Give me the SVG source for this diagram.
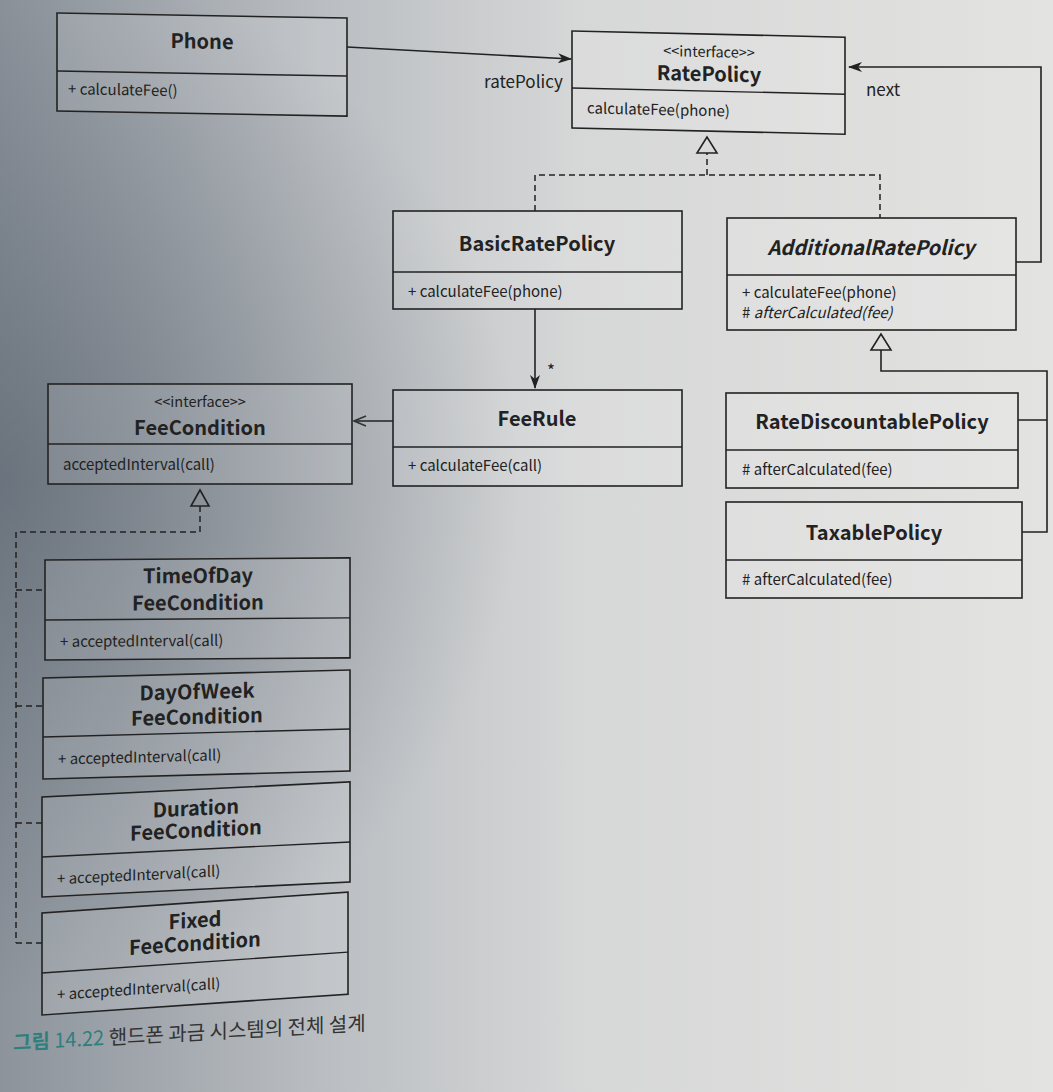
<svg xmlns="http://www.w3.org/2000/svg" width="1053" height="1092" viewBox="0 0 1053 1092">
<defs>
<linearGradient id="bg" x1="0" y1="0" x2="1" y2="0">
<stop offset="0" stop-color="#8c939b"/>
<stop offset="0.3" stop-color="#b9bdc1"/>
<stop offset="0.55" stop-color="#d6d7d7"/>
<stop offset="1" stop-color="#e3e3e1"/>
</linearGradient>
<radialGradient id="shade" cx="0" cy="480" r="520" gradientUnits="userSpaceOnUse">
<stop offset="0" stop-color="#4f5965" stop-opacity="0.55"/>
<stop offset="1" stop-color="#4f5965" stop-opacity="0"/>
</radialGradient>
<marker id="stealth" viewBox="0 0 14 10" refX="13" refY="5" markerWidth="14" markerHeight="10" markerUnits="userSpaceOnUse" orient="auto">
<path d="M0,0 L14,5 L0,10 L4,5 Z" fill="#222"/>
</marker>
<marker id="openv" viewBox="0 0 14 12" refX="13" refY="6" markerWidth="14" markerHeight="12" markerUnits="userSpaceOnUse" orient="auto">
<path d="M1,1 L13,6 L1,11" fill="none" stroke="#333" stroke-width="1.6"/>
</marker>
</defs>
<style>
.box{fill:#ffffff;fill-opacity:0.12;stroke:#222;stroke-width:1.6}
.div{stroke:#222;stroke-width:1.4}
.t{font-family:"Noto Sans CJK KR","Noto Sans",sans-serif;font-weight:700;font-size:20px;fill:#222;text-anchor:middle}
.s{font-family:"Noto Sans CJK KR","Noto Sans",sans-serif;font-size:14.5px;fill:#222;text-anchor:middle}
.m{font-family:"Noto Sans CJK KR","Noto Sans",sans-serif;font-size:15px;fill:#222}
.lbl{font-family:"Noto Sans CJK KR","Noto Sans",sans-serif;font-size:17px;fill:#222}
.ln{fill:none;stroke:#222;stroke-width:1.6}
.dash{fill:none;stroke:#222;stroke-width:1.5;stroke-dasharray:6 4}
.tri{fill:none;stroke:#222;stroke-width:1.6}
</style>
<rect x="0" y="0" width="1053" height="1092" fill="url(#bg)"/>
<rect x="0" y="0" width="1053" height="1092" fill="url(#shade)"/>

<g id="connectors">
<line class="ln" x1="347" y1="47" x2="571" y2="59" marker-end="url(#stealth)"/>
<text class="lbl" x="484" y="88">ratePolicy</text>
<path class="dash" d="M535,211 V175 H880 V218"/>
<path class="dash" d="M707,175 V153"/>
<polygon class="tri" points="707,137 697,153 717,153"/>
<path class="ln" d="M1016,262 H1041 V67 H849" marker-end="url(#stealth)"/>
<text class="lbl" x="866" y="96">next</text>
<path class="ln" d="M535,309 V388" marker-end="url(#stealth)"/>
<text class="lbl" x="547" y="377" font-size="14">*</text>
<path class="ln" d="M393,421 H354" marker-end="url(#openv)"/>
<polygon class="tri" points="200,490 191,506 209,506"/>
<path class="dash" d="M200,506 V532 H16 V943"/>
<path class="dash" d="M16,590 H45 M16,706 H43 M16,823 H42 M16,943 H42"/>
<polygon class="tri" points="881,334 871,350 891,350"/>
<path class="ln" d="M881,350 V371 H1047 V532 H1022 M1047,420 H1018"/>
</g>

<g id="Phone" transform="translate(57,13) skewY(1)">
<rect class="box" x="0" y="0" width="290" height="98"/>
<line class="div" x1="0" y1="58" x2="290" y2="58"/>
<text class="t" x="145" y="33">Phone</text>
<text class="m" x="11" y="81">+ calculateFee()</text>
</g>

<g id="RatePolicy" transform="translate(572,31) skewY(1.3)">
<rect class="box" x="0" y="0" width="273" height="97"/>
<line class="div" x1="0" y1="57" x2="273" y2="57"/>
<text class="s" x="137" y="23">&lt;&lt;interface&gt;&gt;</text>
<text class="t" x="137" y="47">RatePolicy</text>
<text class="m" x="15" y="82">calculateFee(phone)</text>
</g>

<g id="BasicRatePolicy">
<rect class="box" x="393" y="211" width="289" height="98"/>
<line class="div" x1="393" y1="272" x2="682" y2="272"/>
<text class="t" x="537" y="251">BasicRatePolicy</text>
<text class="m" x="408" y="297">+ calculateFee(phone)</text>
</g>

<g id="AdditionalRatePolicy">
<rect class="box" x="727" y="218" width="289" height="112"/>
<line class="div" x1="727" y1="275" x2="1016" y2="275"/>
<text class="t" x="871" y="255" font-style="italic">AdditionalRatePolicy</text>
<text class="m" x="742" y="298">+ calculateFee(phone)</text>
<text class="m" x="742" y="318"># <tspan font-style="italic">afterCalculated(fee)</tspan></text>
</g>

<g id="FeeRule">
<rect class="box" x="393" y="390" width="289" height="96"/>
<line class="div" x1="393" y1="447" x2="682" y2="447"/>
<text class="t" x="537" y="426">FeeRule</text>
<text class="m" x="408" y="471">+ calculateFee(call)</text>
</g>

<g id="FeeCondition">
<rect class="box" x="48" y="384" width="304" height="100"/>
<line class="div" x1="48" y1="444" x2="352" y2="444"/>
<text class="s" x="200" y="407">&lt;&lt;interface&gt;&gt;</text>
<text class="t" x="200" y="435">FeeCondition</text>
<text class="m" x="63" y="470">acceptedInterval(call)</text>
</g>

<g id="RateDiscountablePolicy">
<rect class="box" x="726" y="393" width="292" height="95"/>
<line class="div" x1="726" y1="450" x2="1018" y2="450"/>
<text class="t" x="872" y="429">RateDiscountablePolicy</text>
<text class="m" x="742" y="475"># afterCalculated(fee)</text>
</g>

<g id="TaxablePolicy">
<rect class="box" x="726" y="502" width="296" height="96"/>
<line class="div" x1="726" y1="560" x2="1022" y2="560"/>
<text class="t" x="874" y="540">TaxablePolicy</text>
<text class="m" x="742" y="585"># afterCalculated(fee)</text>
</g>

<g id="TimeOfDayFeeCondition" transform="translate(45,560) skewY(-0.4)">
<rect class="box" x="0" y="0" width="305" height="100"/>
<line class="div" x1="0" y1="60" x2="305" y2="60"/>
<text class="t" x="153" y="24">TimeOfDay<tspan x="153" dy="27">FeeCondition</tspan></text>
<text class="m" x="15" y="87">+ acceptedInterval(call)</text>
</g>

<g id="DayOfWeekFeeCondition" transform="translate(43,678) skewY(-1.5)">
<rect class="box" x="0" y="0" width="307" height="101"/>
<line class="div" x1="0" y1="59" x2="307" y2="59"/>
<text class="t" x="154" y="25">DayOfWeek<tspan x="154" dy="25">FeeCondition</tspan></text>
<text class="m" x="15" y="87">+ acceptedInterval(call)</text>
</g>

<g id="DurationFeeCondition" transform="translate(42,797) skewY(-2.8)">
<rect class="box" x="0" y="0" width="308" height="100"/>
<line class="div" x1="0" y1="60" x2="308" y2="60"/>
<text class="t" x="154" y="26">Duration<tspan x="154" dy="22">FeeCondition</tspan></text>
<text class="m" x="15" y="88">+ acceptedInterval(call)</text>
</g>

<g id="FixedFeeCondition" transform="translate(42,913) skewY(-3.9)">
<rect class="box" x="0" y="0" width="306" height="102"/>
<line class="div" x1="0" y1="60" x2="306" y2="60"/>
<text class="t" x="153" y="25">Fixed<tspan x="153" dy="23">FeeCondition</tspan></text>
<text class="m" x="15" y="88">+ acceptedInterval(call)</text>
</g>

<g id="caption" transform="translate(13,1050) skewY(-3.2)">
<text x="0" y="0" font-family="'Noto Sans CJK KR','Noto Sans',sans-serif" font-size="20" fill="#333"><tspan fill="#2f7f7c" font-weight="700">그림</tspan><tspan fill="#2f7f7c"> 14.22</tspan> 핸드폰 과금 시스템의 전체 설계</text>
</g>
</svg>
